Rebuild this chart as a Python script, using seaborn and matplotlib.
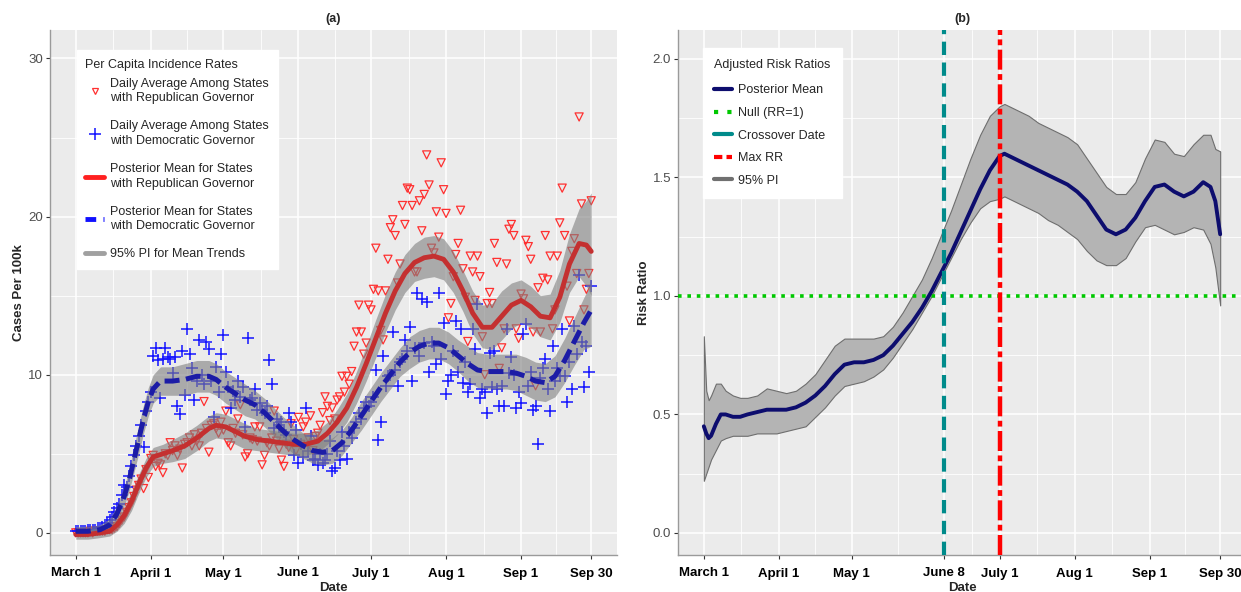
import numpy as np
import pandas as pd
import matplotlib
matplotlib.use("Agg")
import matplotlib.pyplot as plt
from matplotlib.lines import Line2D
import seaborn as sns

start = pd.Timestamp("2020-03-01")

# daily average incidence (cases per 100k), Mar 1 .. Sep 30
rep_daily = (
    # March
    [0.0, 0.0, 0.0, 0.0, 0.0, 0.0, 0.1, 0.0, 0.1, 0.1, 0.1, 0.1, 0.1, 0.2, 0.2, 0.2,
     0.3, 0.4, 0.6, 0.8, 1.0, 1.3, 1.6, 1.9, 2.3, 2.7, 3.0, 3.4, 2.8, 4.0, 3.5]
    # April
    + [4.7, 4.9, 4.2, 4.4, 4.3, 3.8, 5.0, 4.9, 5.7, 5.2, 5.5, 4.9, 5.3, 4.1, 5.6,
       5.7, 6.0, 5.5, 6.2, 5.8, 5.5, 6.3, 8.3, 6.6, 5.1, 6.8, 6.9, 6.6, 6.3, 7.0]
    # May
    + [6.5, 7.7, 5.7, 5.5, 6.6, 6.3, 7.2, 8.1, 6.2, 4.8, 5.0, 6.0, 5.9, 6.7, 5.8, 6.7,
       4.3, 4.9, 5.7, 5.5, 6.0, 7.7, 5.8, 5.3, 4.6, 4.2, 5.6, 5.4, 6.9, 5.9, 5.2]
    # June
    + [7.3, 5.6, 6.7, 7.0, 6.0, 7.4, 5.2, 6.1, 6.3, 6.8, 7.6, 8.6, 8.0, 7.1, 7.9,
       7.2, 8.4, 8.6, 9.9, 8.9, 9.9, 9.4, 10.2, 11.8, 12.7, 14.4, 12.7, 11.3, 12.0, 14.4]
    # July
    + [14.1, 15.4, 18.0, 15.3, 12.8, 12.2, 15.3, 17.3, 19.3, 19.8, 18.8, 15.8, 17.0,
       20.7, 19.5, 21.8, 21.7, 20.7, 16.5, 16.5, 21.0, 19.1, 21.4, 23.9, 22.0, 18.0,
       17.7, 20.3, 18.7, 23.4, 21.7]
    # August
    + [20.2, 13.6, 14.5, 16.2, 17.6, 18.3, 20.4, 16.7, 14.9, 12.1, 17.5, 16.5, 14.7,
       17.5, 16.2, 12.4, 10.0, 14.5, 15.2, 14.5, 18.3, 17.1, 10.4, 11.7, 12.9, 17.0,
       19.2, 19.5, 18.8, 12.9, 12.3]
    # September
    + [15.1, 14.8, 18.5, 18.1, 17.3, 12.7, 9.3, 15.5, 12.7, 16.1, 18.8, 16.0, 17.5,
       12.9, 14.1, 17.5, 19.6, 21.8, 18.8, 15.6, 13.4, 17.8, 18.6, 16.4, 26.3, 20.8,
       14.1, 15.4, 16.4, 21.0]
)

dem_daily = (
    [0.1, 0.1, 0.1, 0.1, 0.1, 0.2, 0.2, 0.2, 0.2, 0.3, 0.3, 0.4, 0.4, 0.6, 0.8, 1.0,
     1.3, 1.6, 1.8, 2.4, 3.0, 2.9, 3.6, 4.2, 4.9, 5.5, 6.1, 6.8, 5.4, 7.7, 8.3]
    + [8.9, 11.2, 11.7, 10.9, 8.5, 11.0, 11.7, 11.1, 11.0, 10.1, 11.1, 8.0, 7.5, 11.5,
       8.7, 12.9, 11.3, 10.4, 8.4, 9.6, 12.2, 10.0, 9.4, 12.1, 11.6, 9.6, 7.3, 10.5, 8.9, 11.3]
    + [12.5, 10.2, 9.2, 7.9, 9.0, 8.4, 9.6, 8.6, 9.2, 6.7, 12.3, 8.4, 8.5, 9.1, 7.8, 8.2,
       7.8, 7.6, 8.0, 10.9, 9.4, 6.6, 7.2, 6.8, 7.0, 6.4, 6.2, 7.6, 7.0, 4.9, 6.5]
    + [4.4, 5.6, 4.8, 7.9, 5.2, 6.1, 4.6, 4.7, 4.3, 5.0, 4.4, 4.6, 5.0, 5.8, 3.9, 4.1,
       5.2, 4.6, 6.4, 5.5, 4.7, 6.4, 6.0, 6.6, 7.0, 7.6, 7.2, 7.9, 8.3, 8.0]
    + [8.3, 8.6, 10.3, 5.9, 7.0, 11.2, 9.3, 9.9, 10.0, 12.7, 10.3, 9.3, 10.8, 11.0, 12.2,
       11.5, 13.0, 9.6, 11.7, 15.2, 11.2, 14.8, 12.0, 14.6, 10.2, 12.1, 11.8, 10.7, 15.2,
       11.0, 13.3]
    + [8.8, 9.6, 10.0, 11.5, 13.4, 10.2, 12.9, 9.5, 10.8, 8.9, 9.4, 12.9, 11.6, 14.5, 8.5,
       9.1, 8.9, 7.6, 11.4, 9.2, 11.5, 9.1, 8.0, 9.3, 8.0, 12.9, 10.1, 11.1, 10.0, 7.9, 8.9]
    + [8.2, 12.6, 13.2, 9.3, 10.2, 7.8, 8.0, 5.6, 9.8, 10.4, 11.0, 9.1, 7.7, 11.8, 9.6,
       10.4, 9.9, 12.9, 9.9, 8.3, 10.8, 9.1, 13.1, 11.3, 16.3, 12.1, 9.2, 11.8, 10.2, 15.6]
)
obs_day = np.arange(len(rep_daily))

# posterior mean trends + 95% PI (days since Mar 1)
rep_days = [0, 5, 10, 14, 17, 20, 23, 26, 29, 32, 36, 40, 45, 50, 55, 58, 62, 66, 70, 75,
            80, 85, 90, 95, 100, 104, 108, 112, 116, 120, 124, 128, 132, 136, 140, 144,
            148, 152, 156, 160, 164, 168, 172, 176, 180, 184, 188, 192, 196, 200, 204,
            208, 211, 213]
rep_mean = [-0.1, -0.1, 0.0, 0.1, 0.5, 1.1, 2.0, 3.1, 4.1, 4.8, 5.0, 5.2, 5.5, 6.0, 6.6,
            6.8, 6.7, 6.4, 6.1, 5.9, 5.8, 5.7, 5.6, 5.6, 5.8, 6.3, 7.0, 7.9, 9.2, 10.7,
            12.3, 13.9, 15.3, 16.4, 17.1, 17.4, 17.5, 17.3, 16.5, 15.3, 13.9, 13.0, 13.0,
            13.7, 14.4, 14.7, 14.3, 13.7, 13.6, 14.9, 17.0, 18.3, 18.2, 17.8]
rep_hi = [0.2, 0.2, 0.3, 0.4, 0.9, 1.6, 2.6, 3.7, 4.7, 5.4, 5.6, 5.9, 6.3, 6.8, 7.4, 7.6,
          7.5, 7.2, 6.9, 6.6, 6.5, 6.4, 6.3, 6.3, 6.5, 7.0, 7.8, 8.8, 10.2, 11.8, 13.5,
          15.1, 16.5, 17.6, 18.3, 18.7, 18.8, 18.6, 17.8, 16.6, 15.3, 14.4, 14.5, 15.3,
          15.8, 16.0, 15.6, 15.0, 15.1, 16.6, 18.9, 20.5, 21.0, 21.5]
rep_lo = [-0.4, -0.4, -0.3, -0.2, 0.1, 0.6, 1.4, 2.5, 3.5, 4.2, 4.4, 4.5, 4.7, 5.2, 5.8,
          6.0, 5.9, 5.6, 5.3, 5.2, 5.1, 5.0, 4.9, 4.9, 5.1, 5.6, 6.2, 7.0, 8.2, 9.6, 11.1,
          12.7, 14.1, 15.2, 15.9, 16.1, 16.2, 16.0, 15.2, 14.0, 12.6, 11.7, 11.6, 12.2,
          12.9, 13.3, 13.0, 12.4, 12.2, 13.3, 15.2, 16.2, 15.6, 15.0]

dem_days = [0, 5, 10, 14, 17, 20, 22, 24, 26, 28, 30, 32, 35, 40, 45, 50, 55, 58, 62, 66,
            70, 74, 78, 82, 86, 90, 94, 98, 102, 106, 110, 114, 118, 122, 126, 130, 134,
            138, 142, 146, 150, 154, 158, 162, 166, 170, 174, 178, 182, 186, 190, 194,
            198, 202, 206, 210, 213]
dem_mean = [0.1, 0.1, 0.2, 0.5, 1.2, 2.3, 3.3, 4.6, 5.9, 7.2, 8.3, 9.1, 9.6, 9.6, 9.7,
            9.9, 9.9, 9.7, 9.2, 8.8, 8.4, 8.1, 7.6, 7.0, 6.4, 5.9, 5.5, 5.2, 5.1, 5.2, 5.7,
            6.5, 7.4, 8.3, 9.2, 10.0, 10.8, 11.4, 11.8, 12.0, 12.0, 11.7, 11.2, 10.7, 10.3,
            10.2, 10.2, 10.2, 10.1, 9.9, 9.6, 9.5, 9.9, 10.9, 12.1, 13.3, 14.1]
dem_hi = [0.4, 0.4, 0.5, 0.9, 1.7, 2.9, 4.0, 5.4, 6.8, 8.1, 9.2, 10.0, 10.5, 10.5, 10.7,
          10.9, 10.9, 10.7, 10.2, 9.8, 9.4, 9.0, 8.5, 7.9, 7.3, 6.8, 6.3, 6.0, 5.9, 6.0,
          6.5, 7.3, 8.3, 9.2, 10.1, 10.9, 11.7, 12.4, 12.8, 13.0, 13.0, 12.7, 12.2, 11.8,
          11.4, 11.3, 11.3, 11.3, 11.3, 11.1, 10.8, 10.7, 11.2, 12.3, 13.6, 14.9, 15.8]
dem_lo = [-0.2, -0.2, -0.1, 0.1, 0.7, 1.7, 2.6, 3.8, 5.0, 6.3, 7.4, 8.2, 8.7, 8.7, 8.7,
          8.9, 8.9, 8.7, 8.2, 7.8, 7.4, 7.2, 6.7, 6.1, 5.5, 5.0, 4.7, 4.4, 4.3, 4.4, 4.9,
          5.7, 6.5, 7.4, 8.3, 9.1, 9.9, 10.4, 10.8, 11.0, 11.0, 10.7, 10.2, 9.6, 9.2, 9.1,
          9.1, 9.1, 9.0, 8.7, 8.4, 8.3, 8.6, 9.5, 10.6, 11.6, 11.8]

# adjusted risk ratio (Rep / Dem)
rr_days = [0, 1, 2, 3, 5, 7, 9, 12, 15, 18, 22, 26, 30, 34, 38, 42, 46, 50, 54, 58, 62,
           66, 70, 74, 78, 82, 86, 90, 94, 98, 102, 106, 110, 114, 118, 122, 124, 126,
           130, 134, 138, 142, 146, 150, 154, 158, 162, 166, 170, 174, 178, 182, 186,
           190, 194, 198, 202, 206, 209, 211, 213]
rr_mean = [0.45, 0.42, 0.40, 0.41, 0.46, 0.50, 0.50, 0.49, 0.49, 0.50, 0.51, 0.52, 0.52,
           0.52, 0.53, 0.55, 0.58, 0.62, 0.67, 0.71, 0.72, 0.72, 0.73, 0.75, 0.79, 0.84,
           0.89, 0.95, 1.02, 1.10, 1.18, 1.27, 1.36, 1.45, 1.53, 1.59, 1.60, 1.59, 1.57,
           1.55, 1.53, 1.51, 1.49, 1.47, 1.44, 1.40, 1.34, 1.28, 1.26, 1.28, 1.33, 1.40,
           1.46, 1.47, 1.44, 1.42, 1.44, 1.48, 1.46, 1.40, 1.26]
rr_hi = [0.83, 0.60, 0.56, 0.58, 0.63, 0.63, 0.60, 0.58, 0.57, 0.57, 0.58, 0.61, 0.60,
         0.59, 0.60, 0.63, 0.67, 0.73, 0.79, 0.82, 0.82, 0.82, 0.82, 0.83, 0.87, 0.93,
         1.00, 1.07, 1.16, 1.26, 1.36, 1.47, 1.58, 1.68, 1.76, 1.80, 1.81, 1.80, 1.78,
         1.76, 1.73, 1.71, 1.69, 1.67, 1.64, 1.58, 1.52, 1.46, 1.43, 1.43, 1.48, 1.58,
         1.66, 1.65, 1.60, 1.59, 1.64, 1.68, 1.68, 1.62, 1.61]
rr_lo = [0.22, 0.25, 0.28, 0.31, 0.35, 0.39, 0.40, 0.41, 0.41, 0.41, 0.42, 0.42, 0.42,
         0.43, 0.44, 0.45, 0.49, 0.53, 0.58, 0.62, 0.63, 0.64, 0.66, 0.69, 0.74, 0.80,
         0.86, 0.93, 1.00, 1.08, 1.16, 1.24, 1.31, 1.37, 1.40, 1.41, 1.42, 1.41, 1.39,
         1.37, 1.35, 1.32, 1.30, 1.27, 1.24, 1.19, 1.15, 1.13, 1.13, 1.16, 1.23, 1.29,
         1.30, 1.28, 1.26, 1.27, 1.29, 1.28, 1.22, 1.12, 0.96]

crossover = "2020-06-08"
max_rr = "2020-07-01"

tick_dates_a = ["2020-03-01", "2020-04-01", "2020-05-01", "2020-06-01", "2020-07-01",
                "2020-08-01", "2020-09-01", "2020-09-30"]
tick_labels_a = ["March 1", "April 1", "May 1", "June 1", "July 1", "Aug 1", "Sep 1", "Sep 30"]
tick_dates_b = ["2020-03-01", "2020-04-01", "2020-05-01", crossover, "2020-07-01",
                "2020-08-01", "2020-09-01", "2020-09-30"]
tick_labels_b = ["March 1", "April 1", "May 1", "June 8", "July 1", "Aug 1", "Sep 1", "Sep 30"]


def to_day(d):
    return (pd.Timestamp(d) - start).days


sns.set_theme(style="darkgrid", rc={
    "axes.facecolor": "#EBEBEB",
    "grid.color": "white",
    "xtick.bottom": True, "ytick.left": True,
    "xtick.major.size": 3, "ytick.major.size": 3,
    "xtick.major.width": 0.8, "ytick.major.width": 0.8,
    "xtick.color": "#333333", "ytick.color": "#333333",
})
plt.rcParams["font.family"] = ["Liberation Sans", "DejaVu Sans"]

fig = plt.figure(figsize=(12.41, 5.92), dpi=100)
ax1 = fig.add_axes([50 / 1241, 37 / 592, 567 / 1241, 525 / 592])
ax2 = fig.add_axes([678 / 1241, 37 / 592, 568 / 1241, 525 / 592])


def style_axes(ax, ticks, labels, yticks, yminor, ylim, ylabel, title):
    xt = [to_day(d) for d in ticks]
    ax.set_xlim(-10.65, 223.65)
    ax.set_ylim(*ylim)
    ax.set_xticks(xt)
    ax.set_xticklabels(labels, fontsize=9.5, fontweight="bold", color="black")
    ax.set_xticks([(a + b) / 2 for a, b in zip(xt[:-1], xt[1:])], minor=True)
    ax.set_yticks(yticks)
    ax.set_yticks(yminor, minor=True)
    ax.tick_params(axis="y", labelsize=9.5, labelcolor="#4d4d4d", pad=2)
    ax.tick_params(axis="x", pad=6)
    ax.tick_params(which="minor", length=0)
    ax.grid(which="major", color="white", lw=1.1)
    ax.grid(which="minor", color="white", lw=0.6)
    for side in ["top", "right"]:
        ax.spines[side].set_visible(False)
    for side in ["left", "bottom"]:
        ax.spines[side].set_visible(True)
        ax.spines[side].set_color("#9a9a9a")
        ax.spines[side].set_linewidth(1.0)
    ax.set_xlabel("Date", fontsize=9.5, fontweight="bold", labelpad=1.5)
    ax.set_ylabel(ylabel, fontsize=9.5, fontweight="bold", labelpad=2)
    ax.set_title(title, fontsize=9, fontweight="bold", pad=6)


# ---- (a) incidence ----
sns.scatterplot(x=obs_day, y=rep_daily, ax=ax1, marker="v", s=34, facecolors="none",
                edgecolors="#ff3030", linewidth=0.9, zorder=2)
sns.scatterplot(x=obs_day, y=dem_daily, ax=ax1, marker="+", s=70, color="#1414ff",
                linewidth=1.1, zorder=2)
ax1.fill_between(rep_days, rep_lo, rep_hi, color="#7f7f7f", alpha=0.6, lw=0, zorder=3)
ax1.fill_between(dem_days, dem_lo, dem_hi, color="#7f7f7f", alpha=0.6, lw=0, zorder=3)
sns.lineplot(x=rep_days, y=rep_mean, ax=ax1, color="#c43030", lw=3.5, zorder=4,
             errorbar=None, sort=False)
sns.lineplot(x=dem_days, y=dem_mean, ax=ax1, color="#1c1ca6", lw=3.6, zorder=4,
             errorbar=None, sort=False, linestyle=(0, (3.0, 1.3)))

style_axes(ax1, tick_dates_a, tick_labels_a, [0, 10, 20, 30], [5, 15, 25],
           (-1.4, 31.8), "Cases Per 100k", "(a)")

handles_a = [
    Line2D([], [], marker="v", ls="none", mfc="none", mec="#ff3030", ms=5, mew=0.9),
    Line2D([], [], marker="+", ls="none", color="#1414ff", ms=8, mew=1.1),
    Line2D([], [], color="#ff2020", lw=3.5),
    Line2D([], [], color="#1010ff", lw=3.5, ls=(0, (2.2, 1.5))),
    Line2D([], [], color="#a0a0a0", lw=3.5),
]
labels_a = ["Daily Average Among States\nwith Republican Governor",
            "Daily Average Among States\nwith Democratic Governor",
            "Posterior Mean for States\nwith Republican Governor",
            "Posterior Mean for States\nwith Democratic Governor",
            "95% PI for Mean Trends"]
leg = ax1.legend(handles_a, labels_a, title="Per Capita Incidence Rates", loc="upper left",
                 bbox_to_anchor=(0.047, 0.962), borderaxespad=0, fontsize=9,
                 title_fontsize=9, alignment="left", frameon=True, fancybox=False,
                 facecolor="white", edgecolor="white", framealpha=1, handlelength=1.5,
                 handletextpad=0.5, labelspacing=1.28, borderpad=0.7)
for t in leg.get_texts():
    t.set_linespacing(1.3)
leg._legend_box.sep = 5
leg.set_zorder(6)

# ---- (b) risk ratio ----
ax2.fill_between(rr_days, rr_lo, rr_hi, facecolor="#b4b4b4", edgecolor="#6e6e6e",
                 lw=0.8, zorder=2)
ax2.axhline(1.0, color="#00c800", lw=2.6, ls=(0, (1, 1.6)), zorder=3)
sns.lineplot(x=rr_days, y=rr_mean, ax=ax2, color="#0d0d6e", lw=2.8, zorder=4,
             errorbar=None, sort=False)
ax2.axvline(to_day(crossover), color="#008b8b", lw=3.0, ls=(0, (3.2, 1.8)), zorder=5)
ax2.axvline(to_day(max_rr), color="#ff0000", lw=3.2, ls=(0, (4.5, 1.0, 1.3, 1.0)), zorder=5)

style_axes(ax2, tick_dates_b, tick_labels_b, [0.0, 0.5, 1.0, 1.5, 2.0],
           [0.25, 0.75, 1.25, 1.75], (-0.093, 2.122), "Risk Ratio", "(b)")
ax2.set_yticklabels(["0.0", "0.5", "1.0", "1.5", "2.0"])

handles_b = [
    Line2D([], [], color="#0d0d6e", lw=3),
    Line2D([], [], color="#00c800", lw=3, ls=(0, (1, 2.2))),
    Line2D([], [], color="#008b8b", lw=3),
    Line2D([], [], color="#ff0000", lw=3, ls=(0, (2.0, 1.0))),
    Line2D([], [], color="#707070", lw=3),
]
labels_b = ["Posterior Mean", "Null (RR=1)", "Crossover Date", "Max RR", "95% PI"]
leg2 = ax2.legend(handles_b, labels_b, title="Adjusted Risk Ratios", loc="upper left",
                  bbox_to_anchor=(0.044, 0.966), borderaxespad=0, fontsize=9,
                  title_fontsize=9, alignment="left", frameon=True, fancybox=False,
                  facecolor="white", edgecolor="white", framealpha=1, handlelength=1.4,
                  handletextpad=0.5, labelspacing=0.85, borderpad=0.9)
leg2._legend_box.sep = 9.5
leg2.set_zorder(6)

fig.savefig("out.png", dpi=100)
